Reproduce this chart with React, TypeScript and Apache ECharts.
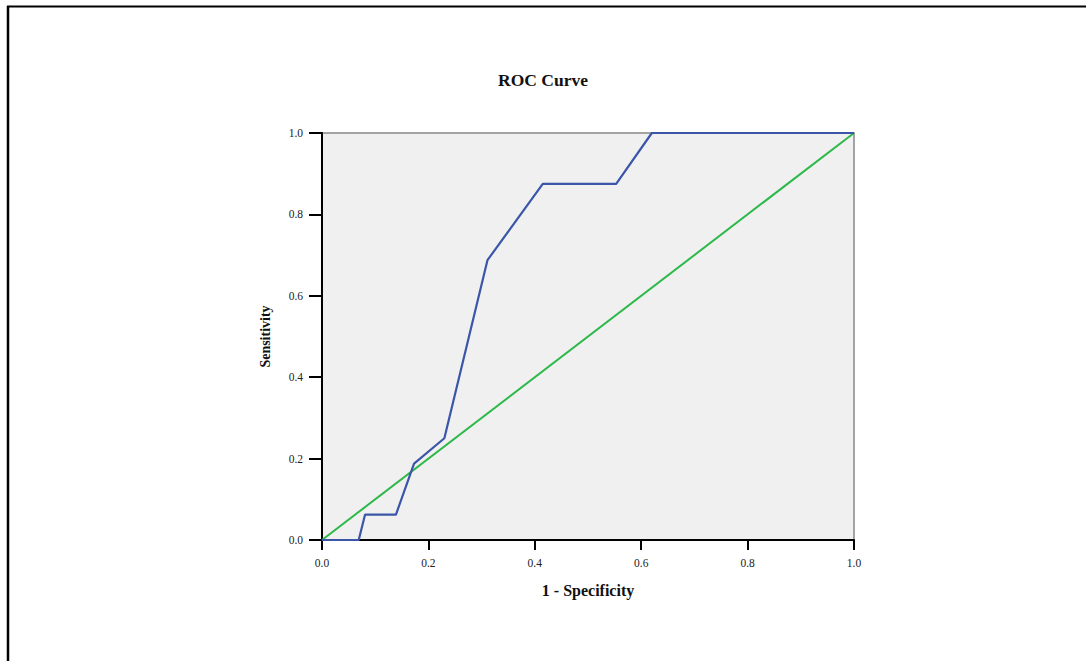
import React, { useEffect, useRef } from "react";
import * as echarts from "echarts";

const rocX = [0, 0.069, 0.081, 0.139, 0.173, 0.23, 0.311, 0.415, 0.553, 0.62, 1.0];
const rocY = [0, 0, 0.0625, 0.0625, 0.1875, 0.25, 0.6875, 0.875, 0.875, 1.0, 1.0];
const refX = [0, 1];
const refY = [0, 1];

const FONT = "'Liberation Serif', 'Times New Roman', serif";

export default function App() {
  const ref = useRef<HTMLDivElement>(null);
  useEffect(() => {
    if (!ref.current) return;
    const chart = echarts.init(ref.current, undefined, { renderer: "svg" });
    const roc = rocX.map((x, i) => [x, rocY[i]]);
    const diag = refX.map((x, i) => [x, refY[i]]);
    chart.setOption({
      animation: false,
      backgroundColor: "#ffffff",
      title: {
        text: "ROC Curve",
        left: "center",
        top: 66,
        textStyle: { fontFamily: FONT, fontSize: 17.5, fontWeight: "bold", color: "#111" },
      },
      grid: {
        left: 322,
        top: 133,
        width: 532,
        height: 407,
        show: true,
        backgroundColor: "#f0f0f0",
        borderColor: "#888",
        borderWidth: 1.5,
      },
      xAxis: {
        type: "value",
        min: 0,
        max: 1,
        interval: 0.2,
        name: "1 - Specificity",
        nameLocation: "middle",
        nameGap: 42,
        nameTextStyle: { fontFamily: FONT, fontSize: 16, fontWeight: "bold", color: "#111" },
        axisLine: { show: true, lineStyle: { color: "#000", width: 2 } },
        axisTick: { show: true, length: 10, lineStyle: { color: "#000", width: 2 } },
        axisLabel: {
          margin: 17,
          fontFamily: FONT,
          fontSize: 11.5,
          color: "#222",
          formatter: (v: number) => v.toFixed(1),
        },
        splitLine: { show: false },
      },
      yAxis: {
        type: "value",
        min: 0,
        max: 1,
        interval: 0.2,
        name: "Sensitivity",
        nameLocation: "middle",
        nameGap: 50,
        nameTextStyle: { fontFamily: FONT, fontSize: 14, fontWeight: "bold", color: "#111" },
        axisLine: { show: true, lineStyle: { color: "#000", width: 2 } },
        axisTick: { show: true, length: 13, lineStyle: { color: "#000", width: 2 } },
        axisLabel: {
          margin: 19,
          fontFamily: FONT,
          fontSize: 11.5,
          color: "#222",
          formatter: (v: number) => v.toFixed(1),
        },
        splitLine: { show: false },
      },
      series: [
        {
          type: "line",
          data: diag,
          showSymbol: false,
          lineStyle: { color: "#2db84a", width: 2 },
          z: 2,
        },
        {
          type: "line",
          data: roc,
          showSymbol: false,
          lineStyle: { color: "#3b56a8", width: 2.2 },
          z: 3,
        },
      ],
      graphic: [
        {
          type: "line",
          shape: { x1: 8, y1: 6, x2: 8, y2: 661 },
          style: { stroke: "#000", lineWidth: 2.5 },
        },
        {
          type: "line",
          shape: { x1: 7, y1: 6.5, x2: 1086, y2: 6.5 },
          style: { stroke: "#000", lineWidth: 2 },
        },
      ],
    });
    return () => chart.dispose();
  }, []);
  return (
    <div
      ref={ref}
      style={{ position: "fixed", left: 0, top: 0, width: 1086, height: 661 }}
    />
  );
}
